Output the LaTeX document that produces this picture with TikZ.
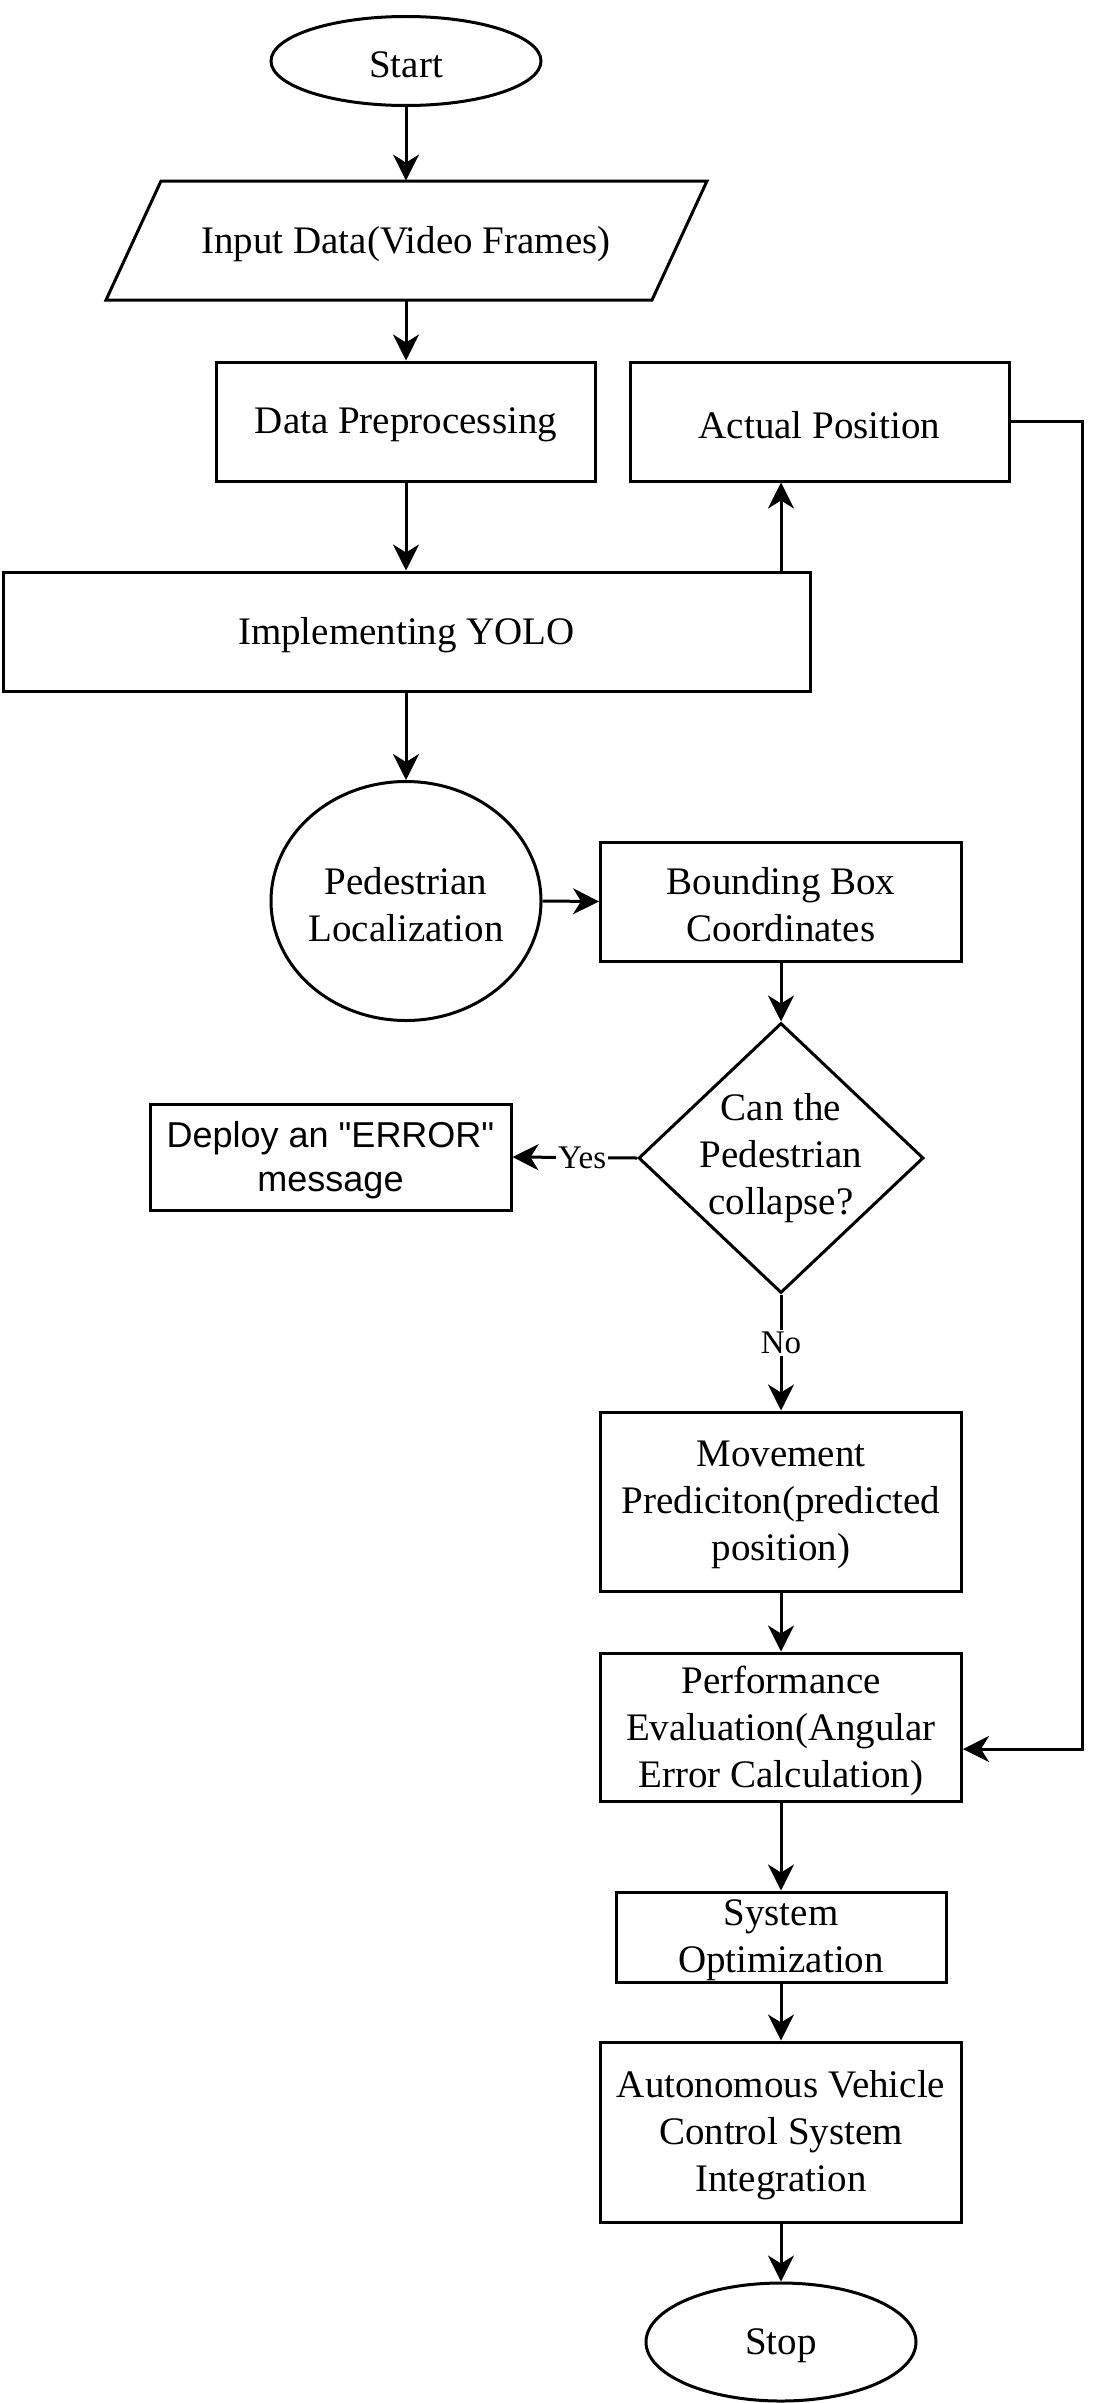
\documentclass[tikz,border=0pt]{standalone}
\usepackage{fontspec}
\setmainfont{Liberation Serif}
\newfontfamily\arialfont{Liberation Sans}
\usetikzlibrary{shapes.geometric,arrows.meta}
\begin{document}
\begin{tikzpicture}[x=0.5pt,y=-0.5pt,
  every node/.style={font=\fontsize{19.5}{23.5}\selectfont},
  arr/.style={line width=1.5pt,-{Stealth[length=13pt,width=13pt,inset=4pt]}},
  plain/.style={line width=1.5pt},
  boxnode/.style={draw,line width=1.5pt,rectangle,inner sep=0pt},
  ellnode/.style={draw,line width=1.5pt,ellipse,inner sep=0pt},
  txt/.style={align=center,inner sep=0pt,yshift=-1.8pt},
  lbl/.style={fill=white,inner sep=1pt,font=\fontsize{16.5}{19}\selectfont}
]
\fill[white] (0,0) rectangle (1107,2403);
\useasboundingbox (0,0) rectangle (1107,2403);

% Shapes
\node[ellnode,minimum width=135pt,minimum height=44.5pt] (start) at (406,61) {};
\draw[plain] (161,181) -- (707,181) -- (652,300) -- (106,300) -- cycle;
\node[inner sep=0pt,minimum height=59.5pt,minimum width=200pt] (input) at (406,240.5) {};
\node[boxnode,minimum width=189.5pt,minimum height=59.5pt] (prep) at (406,421.5) {};
\node[boxnode,minimum width=189.5pt,minimum height=59.5pt] (actual) at (819.5,421.5) {};
\node[boxnode,minimum width=403.5pt,minimum height=59.5pt] (yolo) at (406.5,631.5) {};
\node[ellnode,minimum width=135pt,minimum height=119.5pt] (ped) at (406,901) {};
\node[boxnode,minimum width=180.5pt,minimum height=59.5pt] (bbox) at (781,901.5) {};
\node[draw,line width=1.5pt,diamond,inner sep=0pt,minimum width=142.5pt,minimum height=135pt] (dec) at (781,1158) {};
\node[boxnode,minimum width=180.5pt,minimum height=53pt] (deploy) at (330.5,1157) {};
\node[boxnode,minimum width=180.5pt,minimum height=89.5pt] (move) at (781,1501.5) {};
\node[boxnode,minimum width=180.5pt,minimum height=74pt] (perf) at (781,1727) {};
\node[boxnode,minimum width=165pt,minimum height=45pt] (sys) at (781,1937) {};
\node[boxnode,minimum width=180.5pt,minimum height=90pt] (auto) at (781,2132) {};
\node[ellnode,minimum width=135pt,minimum height=59pt] (stop) at (781,2342) {};

% Texts
\node[txt] (starttxt) at (start) {Start};
\node[txt] (inputtxt) at (input) {Input Data(Video Frames)};
\node[txt] (preptxt) at (prep) {Data Preprocessing};
\node[txt] (actualtxt) at (actual) {Actual Position};
\node[txt] (yolotxt) at (yolo) {Implementing YOLO};
\node[txt] (pedtxt) at (ped) {Pedestrian\\Localization};
\node[txt] (bboxtxt) at (bbox) {Bounding Box\\Coordinates};
\node[txt,yshift=1.8pt] (dectxt) at (dec) {Can the\\Pedestrian\\collapse?};
\node[txt,font=\arialfont\fontsize{18}{22}\selectfont] (deploytxt) at (deploy) {Deploy an "ERROR"\\message};
\node[txt] (movetxt) at (move) {Movement\\Prediciton(predicted\\position)};
\node[txt] (perftxt) at (perf) {Performance\\Evaluation(Angular\\Error Calculation)};
\node[txt] (systxt) at (sys) {System\\Optimization};
\node[txt] (autotxt) at (auto) {Autonomous Vehicle\\Control System\\Integration};
\node[txt] (stoptxt) at (stop) {Stop};

% Connectors
\draw[arr] (start.south) -- (start.south |- input.north);
\draw[arr] (input.south) -- (input.south |- prep.north);
\draw[arr] (prep.south) -- (prep.south |- yolo.north);
\draw[arr] (yolo.north -| bbox) -- (bbox |- actual.south);
\draw[arr] (yolo.south -| ped) -- (ped.north);
\draw[arr] (ped.east) -- (bbox.west);
\draw[arr] (bbox.south) -- (dec.north);
\draw[arr] (dec.west) -- node[lbl,pos=0.44] (yes) {Yes} (deploy.east);
\draw[arr] (dec.south) -- node[lbl,pos=0.42] (no) {No} (move.north);
\draw[arr] (move.south) -- (perf.north);
\draw[arr] (perf.south) -- (sys.north);
\draw[arr] (sys.south) -- (auto.north);
\draw[arr] (auto.south) -- (stop.north);
\coordinate (rc) at (1082,1749);
\draw[arr] (actual.east) -| (rc) -- (rc -| perf.east);
\end{tikzpicture}
\end{document}
